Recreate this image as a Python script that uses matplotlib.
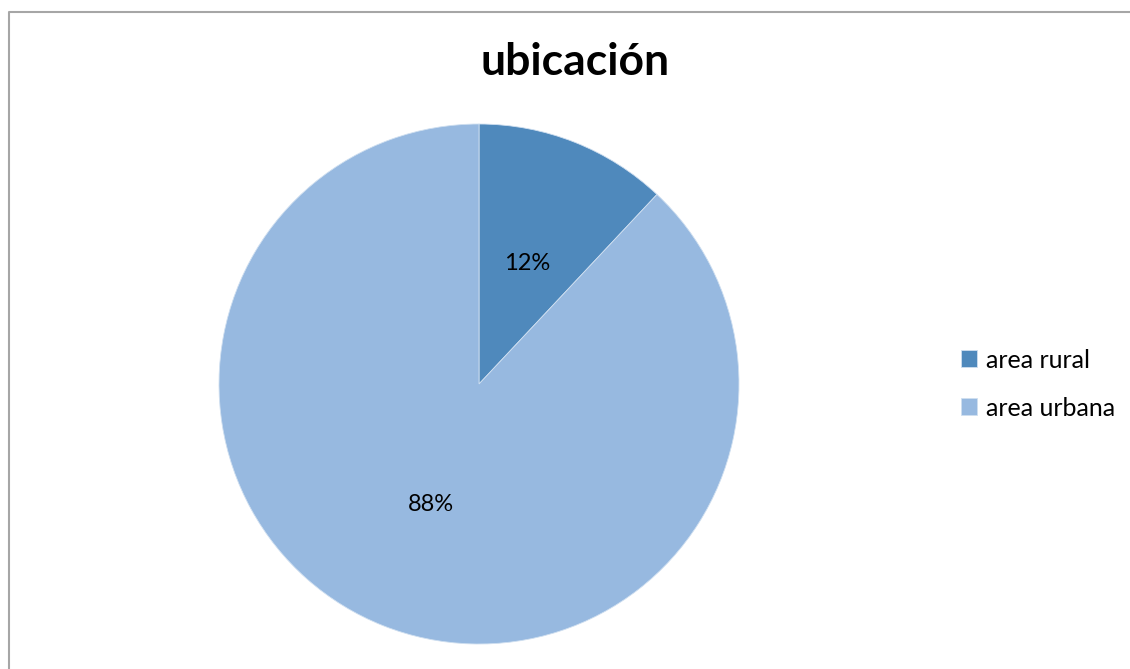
import matplotlib
matplotlib.use("Agg")
import matplotlib.pyplot as plt
from matplotlib.lines import Line2D

plt.rcParams['font.family'] = ['Lato', 'DejaVu Sans']

# data
labels = ['area rural', 'area urbana']
values = [12, 88]
colors = ['#4f89bc', '#97b9e0']
title = 'ubicación'

W, H = 1130, 669
fig = plt.figure(figsize=(W / 100, H / 100), dpi=100)

# chart frame (only top and left edges show)
fx, fy = 8.5 / W, 1 - 12 / H
fig.lines.append(Line2D([fx, fx, 1.2], [-0.2, fy, fy], transform=fig.transFigure,
                        color='#a6a6a6', linewidth=1.5, solid_capstyle='butt'))

cx, cy, r = 479, 384, 260
ax = fig.add_axes([(cx - r) / W, (H - cy - r) / H, 2 * r / W, 2 * r / H])
wedges, _, autotexts = ax.pie(values, colors=colors, startangle=90, counterclock=False,
                              autopct='%1.0f%%', pctdistance=0.5, radius=1,
                              wedgeprops=dict(edgecolor='#cfdff0', linewidth=0.6),
                              textprops=dict(fontsize=17, color='black'))
ax.set_xlim(-1, 1)
ax.set_ylim(-1, 1)
ax.set_aspect('equal')

fig.text(575 / W, 1 - 62 / H, title, ha='center', va='center',
         fontsize=32, fontweight='bold')

fig.legend(wedges, labels, loc='center left', bbox_to_anchor=(938 / W, 1 - 384 / H),
           frameon=False, fontsize=18, handlelength=0.65, handleheight=0.65,
           handletextpad=0.35, labelspacing=1.0)

fig.savefig('out.png', dpi=100)
